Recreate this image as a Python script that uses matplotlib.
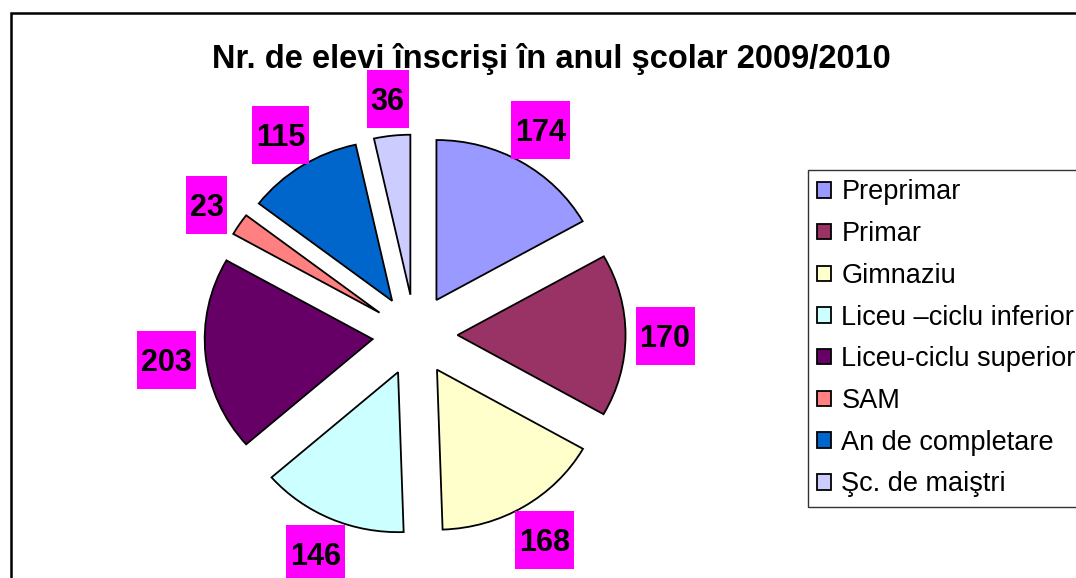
import matplotlib
matplotlib.use('Agg')
import matplotlib.pyplot as plt
from matplotlib.patches import Rectangle

# date
categorii = ['Preprimar', 'Primar', 'Gimnaziu', 'Liceu –ciclu inferior',
             'Liceu-ciclu superior', 'SAM', 'An de completare', 'Şc. de maiştri']
elevi = [174, 170, 168, 146, 203, 23, 115, 36]
culori = ['#9999FF', '#993366', '#FFFFCC', '#CCFFFF',
          '#660066', '#FF8080', '#0066CC', '#CCCCFF']
titlu = 'Nr. de elevi înscrişi în anul şcolar 2009/2010'

plt.rcParams['font.family'] = ['Liberation Sans', 'DejaVu Sans']

W, H = 1076, 578
fig = plt.figure(figsize=(W / 100, H / 100), dpi=100)
ax = fig.add_axes([0, 0, 1, 1])

# imaginea originala e putin intinsa pe orizontala
RX, RY = 168.0, 160.0    # raza in pixeli (x, y)
cx, cy = 415.0, 335.0    # centrul, pixeli de sus
expl = 40.5 / RY
jos = 4 / RY             # etichetele stau putin mai jos

wedges, texts = ax.pie(
    elevi, colors=culori, startangle=90, counterclock=False,
    explode=[expl] * len(elevi), labels=[str(v) for v in elevi],
    labeldistance=1.235,
    wedgeprops=dict(edgecolor='black', linewidth=1.3),
    textprops=dict(fontsize=22, fontweight='bold', ha='center', va='center', zorder=4))


def limite():
    ax.set_aspect('auto')
    ax.set_xlim(-cx / RX, (W - cx) / RX)
    ax.set_ylim(-(H - cy) / RY, cy / RY)


limite()
ax.axis('off')

# casute magenta in spatele etichetelor
fig.canvas.draw()
renderer = fig.canvas.get_renderer()
for t in texts:
    x, y = t.get_position()
    y -= jos
    t.set_position((x, y))
    bb = t.get_window_extent(renderer)
    w = (bb.width + 8) / RX
    h = 58 / RY
    ax.add_patch(Rectangle((x - w / 2, y + 3 / RY - h / 2), w, h,
                           facecolor='#FF00FF', edgecolor='none', zorder=3))
limite()

fig.text(551 / W, 1 - 68 / H, titlu, fontsize=23.5, fontweight='bold',
         ha='center', va='baseline')

leg = fig.legend(wedges, categorii, loc='upper left',
                 bbox_to_anchor=(808 / W, 1 - 170 / H), fontsize=19.5,
                 frameon=True, fancybox=False, edgecolor='black',
                 handlelength=0.5, handleheight=0.5, handletextpad=0.38,
                 labelspacing=0.58, borderpad=0.35, borderaxespad=0)
leg.get_frame().set_linewidth(1)

# chenarul graficului (taiat in dreapta si jos)
fig.add_artist(Rectangle((11 / W, -0.05), 1.1, (H - 13) / H + 0.05,
                         transform=fig.transFigure, fill=False,
                         edgecolor='black', linewidth=1.8))

fig.savefig('out.png', dpi=100)
